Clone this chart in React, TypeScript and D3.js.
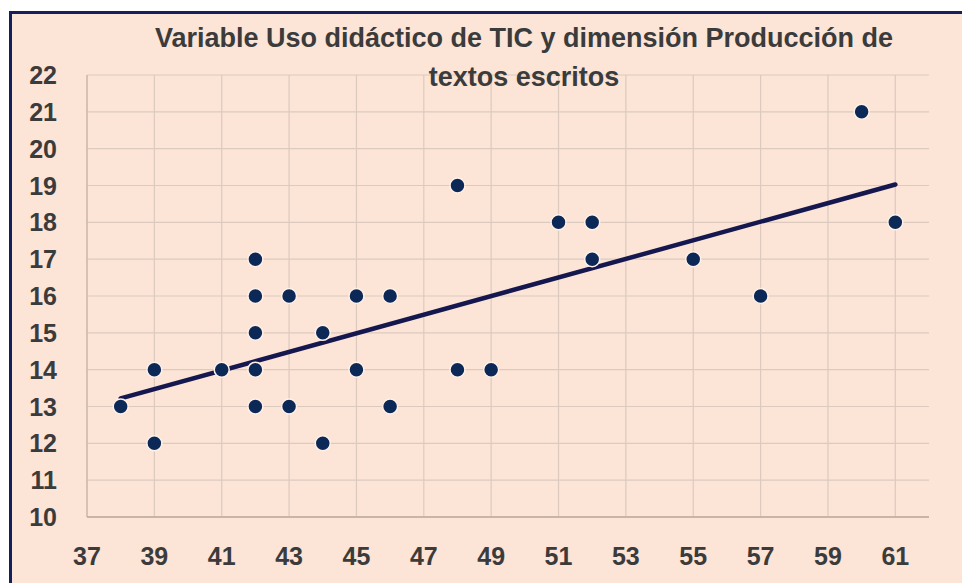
import React from "react";
import * as d3 from "d3";

const xValues = [38, 39, 39, 41, 42, 42, 42, 42, 42, 43, 43, 44, 44, 45, 45, 46, 46, 48, 48, 49, 51, 52, 52, 55, 57, 60, 61];
const yValues = [13, 14, 12, 14, 17, 16, 15, 14, 13, 16, 13, 15, 12, 16, 14, 16, 13, 19, 14, 14, 18, 18, 17, 17, 16, 21, 18];
const xTicks = [37, 39, 41, 43, 45, 47, 49, 51, 53, 55, 57, 59, 61];
const yTicks = [10, 11, 12, 13, 14, 15, 16, 17, 18, 19, 20, 21, 22];
const titleLines = ["Variable Uso didáctico de TIC y dimensión Producción de", "textos escritos"];

const W = 962;
const H = 583;
const plot = { left: 87, right: 929, top: 75, bottom: 517 };

export default function App() {
  const x = d3.scaleLinear().domain([37, 62]).range([plot.left, plot.right]);
  const y = d3.scaleLinear().domain([10, 22]).range([plot.bottom, plot.top]);

  const mx = d3.mean(xValues) as number;
  const my = d3.mean(yValues) as number;
  let sxy = 0, sxx = 0;
  xValues.forEach((v, i) => {
    sxy += (v - mx) * (yValues[i] - my);
    sxx += (v - mx) * (v - mx);
  });
  const slope = sxy / sxx;
  const intercept = my - slope * mx;
  const x0 = d3.min(xValues) as number;
  const x1 = d3.max(xValues) as number;
  const trend = d3.line<number>().x((d) => x(d)).y((d) => y(intercept + slope * d))([x0, x1]) || "";

  const font = "'Liberation Sans', Arial, sans-serif";
  const textColor = "#3b3b3b";

  return (
    <svg width={W} height={H} style={{ position: "absolute", left: 0, top: 0, display: "block" }}>
      <rect x={0} y={0} width={W} height={H} fill="#ffffff" />
      <rect x={9} y={11} width={W - 9} height={H - 11} fill="#fce4d6" />
      <line x1={9} x2={W} y1={12.5} y2={12.5} stroke="#14205a" strokeWidth={3} />
      <line x1={10.5} x2={10.5} y1={11} y2={H} stroke="#14205a" strokeWidth={3} />

      {yTicks.map((t) => (
        <line key={"hy" + t} x1={plot.left} x2={plot.right} y1={y(t)} y2={y(t)} stroke="#dccabf" strokeWidth={1.2} />
      ))}
      {xTicks.filter((t) => t > 37).map((t) => (
        <line key={"vx" + t} x1={x(t)} x2={x(t)} y1={plot.top} y2={plot.bottom} stroke="#dccabf" strokeWidth={1.2} />
      ))}
      <line x1={plot.left} x2={plot.left} y1={plot.top} y2={plot.bottom} stroke="#cdb6a9" strokeWidth={1.5} />
      <line x1={plot.left} x2={plot.right} y1={plot.bottom} y2={plot.bottom} stroke="#bfa899" strokeWidth={1.5} />

      {yTicks.map((t) => (
        <text key={"ly" + t} x={57} y={y(t)} dy="0.36em" textAnchor="end" fontFamily={font} fontWeight="bold" fontSize={25} fill={textColor}>
          {t}
        </text>
      ))}
      {xTicks.map((t) => (
        <text key={"lx" + t} x={x(t)} y={565} textAnchor="middle" fontFamily={font} fontWeight="bold" fontSize={25} fill={textColor}>
          {t}
        </text>
      ))}

      <path d={trend} fill="none" stroke="#15174f" strokeWidth={4.5} strokeLinecap="round" />

      {xValues.map((v, i) => (
        <circle key={"p" + i} cx={x(v)} cy={y(yValues[i])} r={7.5} fill="#0b2856" stroke="#fff1e8" strokeWidth={1.5} />
      ))}

      {titleLines.map((s, i) => (
        <text key={"t" + i} x={524} y={47 + i * 39} textAnchor="middle" fontFamily={font} fontWeight="bold" fontSize={27} fill={textColor}>
          {s}
        </text>
      ))}
    </svg>
  );
}
